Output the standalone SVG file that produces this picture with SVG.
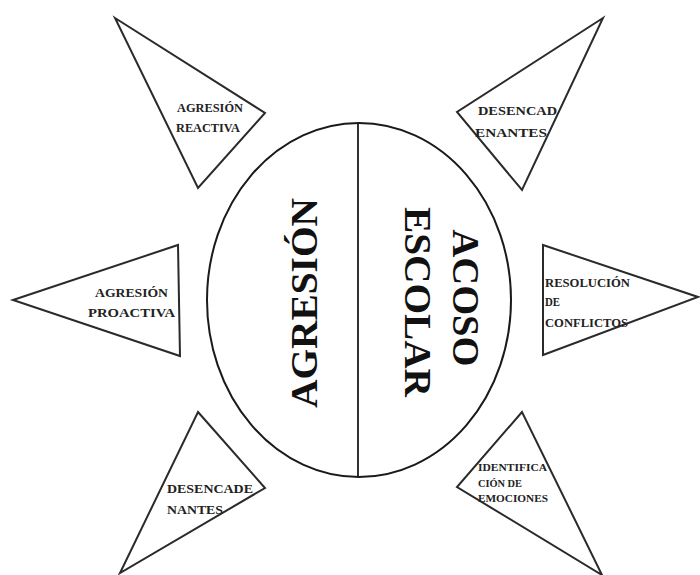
<svg xmlns="http://www.w3.org/2000/svg" width="700" height="575" viewBox="0 0 700 575">
<style>
.tri{fill:none;stroke:#2a2a2a;stroke-width:2;stroke-linejoin:miter}
.big{font-family:"Liberation Serif","Times New Roman",serif;font-weight:bold;font-size:37px;fill:#111}
.sm{font-family:"Liberation Serif","Times New Roman",serif;font-weight:bold;font-size:12.5px;fill:#222}
.xs{font-family:"Liberation Serif","Times New Roman",serif;font-weight:bold;font-size:10.5px;fill:#222}
</style>
<rect width="700" height="575" fill="#fff"/>
<g id="centro">
<ellipse cx="359" cy="300" rx="152" ry="177" fill="none" stroke="#1a1a1a" stroke-width="2"/>
<line x1="358" y1="123" x2="358" y2="477" stroke="#1a1a1a" stroke-width="1.8"/>
<text class="big" transform="translate(317,303) rotate(-90)" text-anchor="middle" textLength="210" lengthAdjust="spacingAndGlyphs">AGRESIÓN</text>
<g transform="translate(453,300) rotate(90)">
<text class="big" x="-2" y="0" text-anchor="middle" textLength="137" lengthAdjust="spacingAndGlyphs">ACOSO</text>
<text class="big" x="2" y="48" text-anchor="middle" textLength="190" lengthAdjust="spacingAndGlyphs">ESCOLAR</text>
</g>
</g>
<g id="agresion-reactiva">
<polygon class="tri" points="115,18 265,113 198,188"/>
<text class="sm" x="177" y="112" textLength="66" lengthAdjust="spacingAndGlyphs">AGRESIÓN</text>
<text class="sm" x="176" y="132" textLength="64" lengthAdjust="spacingAndGlyphs">REACTIVA</text>
</g>
<g id="desencadenantes-1">
<polygon class="tri" points="603,18 457,112 522,190"/>
<text class="sm" x="478" y="115" textLength="79" lengthAdjust="spacingAndGlyphs">DESENCAD</text>
<text class="sm" x="475" y="137" textLength="72" lengthAdjust="spacingAndGlyphs">ENANTES</text>
</g>
<g id="agresion-proactiva">
<polygon class="tri" points="13,300 178,245 180,356"/>
<text class="sm" x="95" y="297" textLength="73" lengthAdjust="spacingAndGlyphs">AGRESIÓN</text>
<text class="sm" x="88" y="317" textLength="87" lengthAdjust="spacingAndGlyphs">PROACTIVA</text>
</g>
<g id="resolucion-conflictos">
<polygon class="tri" points="543,245 698,297 543,355"/>
<text class="sm" x="545" y="287" textLength="85" lengthAdjust="spacingAndGlyphs">RESOLUCIÓN</text>
<text class="sm" x="545" y="306" textLength="15" lengthAdjust="spacingAndGlyphs">DE</text>
<text class="sm" x="545" y="327" textLength="83" lengthAdjust="spacingAndGlyphs">CONFLICTOS</text>
</g>
<g id="desencadenantes-2">
<polygon class="tri" points="198,412 265,488 120,573"/>
<text class="sm" x="167" y="493" textLength="86" lengthAdjust="spacingAndGlyphs">DESENCADE</text>
<text class="sm" x="167" y="514" textLength="56" lengthAdjust="spacingAndGlyphs">NANTES</text>
</g>
<g id="identificacion-emociones">
<polygon class="tri" points="522,412 457,487 602,575"/>
<text class="xs" x="478" y="471" textLength="69" lengthAdjust="spacingAndGlyphs">IDENTIFICA</text>
<text class="xs" x="478" y="487" textLength="44" lengthAdjust="spacingAndGlyphs">CIÓN DE</text>
<text class="xs" x="478" y="502" textLength="70" lengthAdjust="spacingAndGlyphs">EMOCIONES</text>
</g>
<g id="connectors"></g>
</svg>
